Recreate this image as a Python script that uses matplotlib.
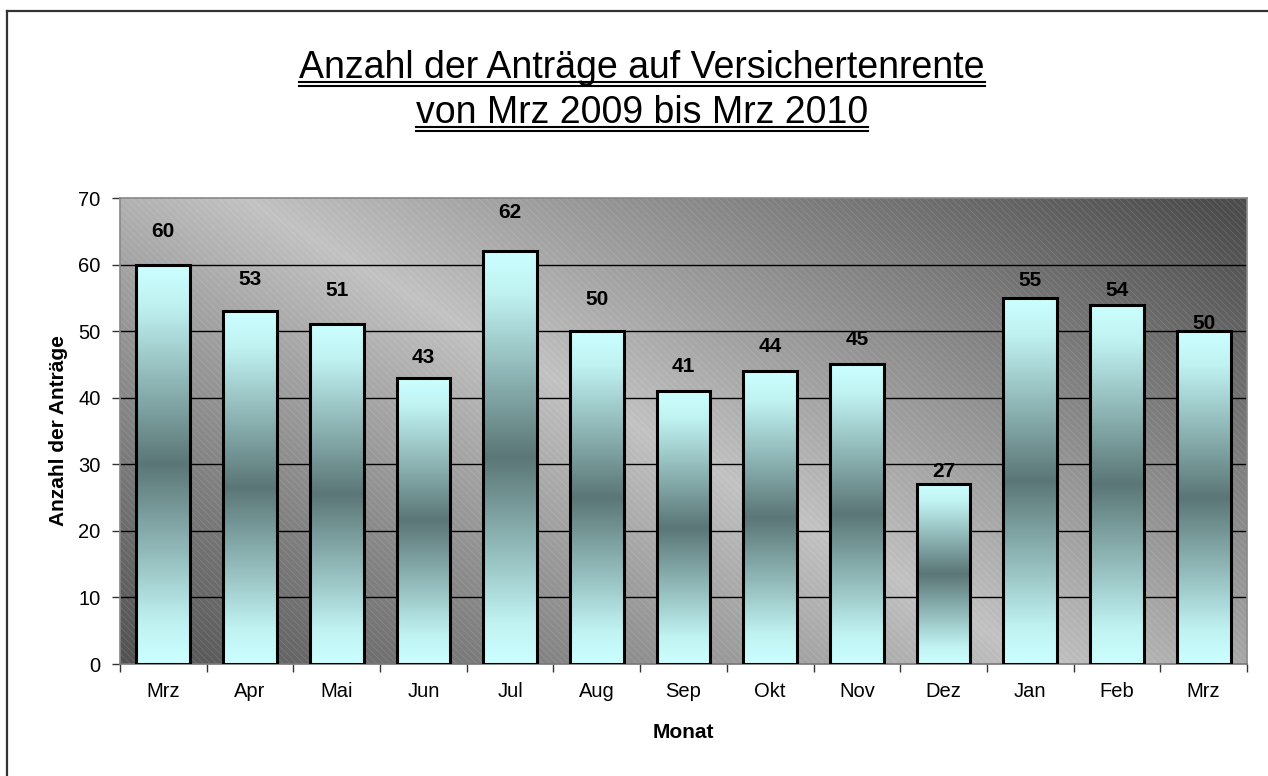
import numpy as np
import matplotlib
matplotlib.use("Agg")
import matplotlib.pyplot as plt
from matplotlib.colors import LinearSegmentedColormap
from matplotlib.patches import Rectangle
from matplotlib.lines import Line2D

# ---- data ----
months = ["Mrz", "Apr", "Mai", "Jun", "Jul", "Aug", "Sep", "Okt", "Nov", "Dez", "Jan", "Feb", "Mrz"]
values = [60, 53, 51, 43, 62, 50, 41, 44, 45, 27, 55, 54, 50]
yticks = [0, 10, 20, 30, 40, 50, 60, 70]
title_line1 = "Anzahl der Anträge auf Versichertenrente"
title_line2 = "von Mrz 2009 bis Mrz 2010"
ylabel = "Anzahl der Anträge"
xlabel = "Monat"
# style: gap (pixels) between bar top and label centre, as placed in the original
label_gap_px = [33, 32, 34, 20, 39, 32, 25, 25, 25, 13, 17, 14, 8]

plt.rcParams["font.family"] = ["Liberation Sans", "DejaVu Sans"]
plt.rcParams["hatch.linewidth"] = 0.5

W, H, DPI = 12.68, 7.76, 100
fig = plt.figure(figsize=(W, H), dpi=DPI)
fig.patch.set_facecolor("white")

L, R, T, B = 120, 1247, 198, 664
ax = fig.add_axes([L / 1268, 1 - B / 776, (R - L) / 1268, (B - T) / 776])

# background gradient (light band running from upper-left to lower-right)
gh, gw = 300, 700
yy, xx = np.mgrid[0:gh, 0:gw]
xn = xx / (gw - 1)
yn = yy / (gh - 1)
d = np.abs(xn - (0.11 + 0.71 * yn)) / 0.85
light, dark = 0.76, 0.30
val = light - (light - dark) * np.clip(d, 0, 1) ** 0.95
bg = np.dstack([val, val, val])
ax.imshow(bg, extent=(0, 1, 0, 1), transform=ax.transAxes, aspect="auto",
          zorder=-3, interpolation="bilinear")
ax.add_patch(Rectangle((0, 0), 1, 1, transform=ax.transAxes, facecolor="none",
                       edgecolor=(1, 1, 1, 0.16), hatch="\\\\\\\\\\", linewidth=0, zorder=-2))

x = np.arange(len(values))

ax.set_yticks(yticks)
for yv in yticks[1:-1]:
    ax.axhline(yv, color="black", linewidth=1.0, zorder=-1)

bw = 0.62
bar_cmap = LinearSegmentedColormap.from_list(
    "bar", [(0.0, "#CCFFFF"), (0.1, "#C0F2F2"), (0.5, "#5B7676"), (0.9, "#C0F2F2"), (1.0, "#CCFFFF")])
grad = np.linspace(0, 1, 256).reshape(-1, 1)
bars = ax.bar(x, values, width=bw, facecolor="none", edgecolor="black", linewidth=2.2, zorder=3)
for b, v in zip(bars, values):
    x0 = b.get_x()
    im = ax.imshow(grad, cmap=bar_cmap, extent=(x0, x0 + bw, 0, v), aspect="auto",
                   zorder=2, interpolation="bilinear")
    im.set_clip_path(b)

ax.set_xlim(-0.5, len(values) - 0.5)
ax.set_ylim(0, 70)

# bar labels
px_per_unit = (B - T) / 70.0
for xi, v, gap in zip(x, values, label_gap_px):
    ax.text(xi, v + gap / px_per_unit, str(v), ha="center", va="center",
            fontsize=15, fontweight="bold", color="black", zorder=5)

# ticks
ax.set_xticks(np.arange(-0.5, len(values), 1.0), minor=False)
ax.set_xticklabels([])
ax.set_xticks(x, minor=True)
ax.set_xticklabels(months, minor=True, fontsize=14.5)
ax.tick_params(axis="x", which="major", length=6, width=1, color="#333333", direction="out")
ax.tick_params(axis="x", which="minor", length=0, pad=13)
ax.tick_params(axis="y", length=6, width=1, color="#333333", labelsize=14.5, pad=8)

for s in ax.spines.values():
    s.set_color("#888888")
    s.set_linewidth(1.2)
ax.spines["bottom"].set_color("#777777")

ax.set_ylabel(ylabel, fontsize=15, fontweight="bold")
ax.yaxis.set_label_coords((58 - L) / (R - L), 0.5)
ax.yaxis.label.set_va("center")
ax.set_xlabel(xlabel, fontsize=15, fontweight="bold")
ax.xaxis.set_label_coords(0.5, (B - 732) / (B - T))
ax.xaxis.label.set_va("center")

# title with double underline
cx = 642 / 1268
t1 = fig.text(cx, 1 - 78 / 776, title_line1, ha="center", va="baseline", fontsize=27)
t2 = fig.text(cx, 1 - 123 / 776, title_line2, ha="center", va="baseline", fontsize=27)
fig.canvas.draw()
r = fig.canvas.get_renderer()
for t, base in ((t1, 78), (t2, 123)):
    bb = t.get_window_extent(renderer=r)
    x0 = bb.x0 / fig.bbox.width
    x1 = bb.x1 / fig.bbox.width
    for off in (4, 7.5):
        yf = 1 - (base + off) / 776
        fig.add_artist(Line2D([x0, x1], [yf, yf], color="black", linewidth=1.5,
                              transform=fig.transFigure))

# outer frame (left and top)
fy = 1 - 11 / 776
fxl = 7 / 1268
fig.add_artist(Line2D([fxl, fxl], [0, fy], color="#333333", linewidth=1.6, transform=fig.transFigure))
fig.add_artist(Line2D([fxl, 1], [fy, fy], color="#333333", linewidth=1.6, transform=fig.transFigure))

fig.savefig("out.png", dpi=DPI)
